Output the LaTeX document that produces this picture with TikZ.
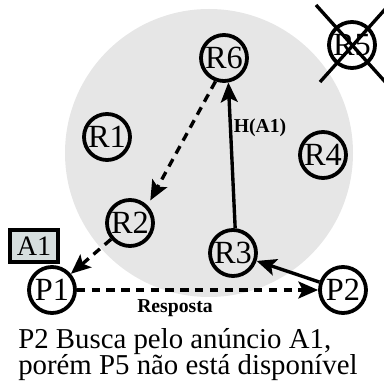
\documentclass[tikz,border=0pt]{standalone}
\usepackage{fontspec}
\setmainfont{Liberation Serif}
\usepackage{xcolor}
\usetikzlibrary{arrows.meta}
\definecolor{areagray}{RGB}{230,230,230}
\definecolor{adfill}{RGB}{214,222,222}

\begin{document}
\begin{tikzpicture}[
  peer/.style={draw, circle, line width=2.7pt, minimum size=1.15cm, inner sep=0pt, font=\fontsize{23}{23}\selectfont},
  msg/.style={line width=2.4pt, -{Stealth[length=14pt,width=12pt,inset=3pt]}},
  back/.style={msg, dash pattern=on 6pt off 4.5pt},
  lbl/.style={font=\bfseries\fontsize{14}{14}\selectfont},
  capt/.style={anchor=base west, inner sep=0pt, font=\fontsize{20.5}{20.5}\selectfont}]
\useasboundingbox (0,0) rectangle (9.575,9.7);
% overlay area
\fill[areagray] (5.225,5.875) circle (3.6);
% peers
\node[peer] (R6) at (5.6,8.25) {R6};
\node[peer] (R1) at (2.675,6.275) {R1};
\node[peer] (R4) at (8.075,5.825) {R4};
\node[peer] (R2) at (3.25,4.125) {R2};
\node[peer] (R3) at (5.825,3.375) {R3};
\node[peer] (P1) at (1.3,2.45) {P1};
\node[peer] (P2) at (8.575,2.45) {P2};
\node[peer] (R5) at (8.8,8.575) {R5};
% R5 is offline
\draw[line width=2.4pt] (R5) ++(-0.9,1.0) -- ++(1.8,-2.0);
\draw[line width=2.4pt] (R5) ++(-0.8,-0.925) -- ++(1.7,1.9);
% advertisement held by P1
\node[draw, line width=2.4pt, fill=adfill, minimum width=1.2cm, minimum height=0.8cm, inner sep=0pt, font=\fontsize{20}{20}\selectfont] (A1) at (0.85,3.55) {A1};
% lookup and reply
\draw[msg] (P2) -- (R3);
\draw[msg] (R3.85) -- (R6.280);
\draw[back, shorten >=4pt] (R6.250) -- (R2.45);
\draw[back] (R2) -- (P1);
\draw[back] (P1) -- (P2);
\node[lbl] (h) at (6.5,6.5) {H(A1)};
\node[lbl] (resp) at (4.375,2.0) {Resposta};
% caption
\node[capt] (cap1) at (0.45,0.975) {P2 Busca pelo anúncio A1,};
\node[capt] (cap2) at (0.45,0.325) {porém P5 não está disponível};
\end{tikzpicture}
\end{document}
